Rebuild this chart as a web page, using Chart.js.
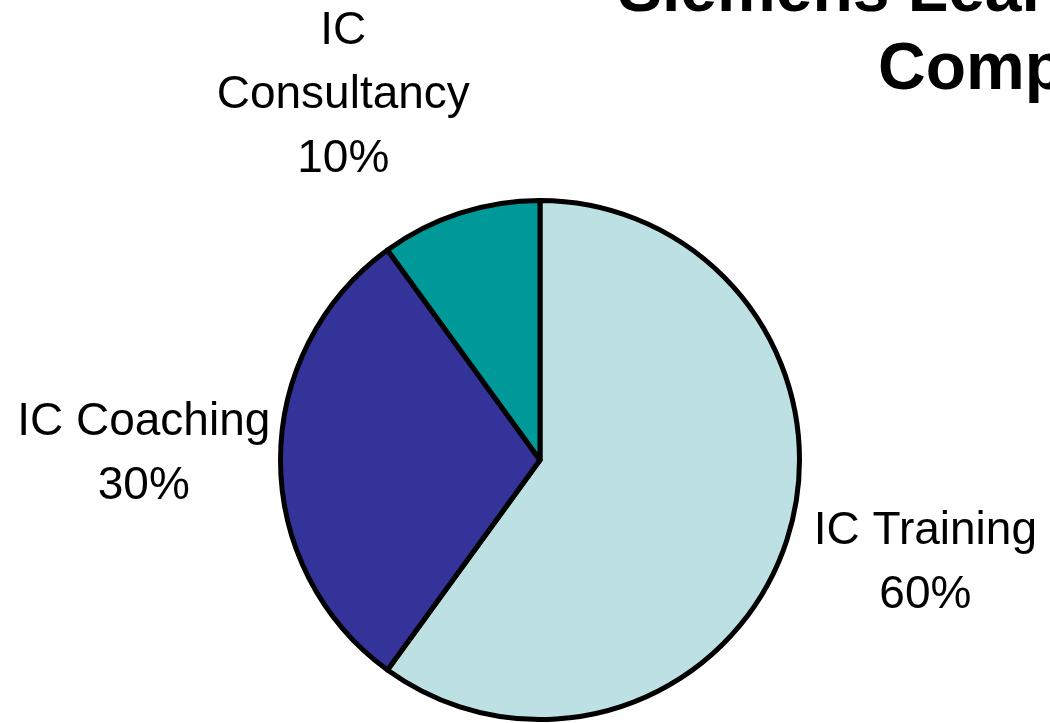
<!DOCTYPE html>
<html>
<head>
<meta charset="utf-8">
<script src="https://cdn.jsdelivr.net/npm/chart.js@4"></script>
<style>
  html, body { margin: 0; padding: 0; background: #fff; }
  #wrap { width: 1050px; height: 723px; position: relative; overflow: hidden; }
</style>
</head>
<body>
<div id="wrap"><canvas id="myChart" width="1050" height="723"></canvas></div>
<script>
// data
var categories = ['IC Training', 'IC Coaching', 'IC Consultancy'];
var shares = [60, 30, 10];
var titleLines = ['Siemens Learning', 'Competence'];

// look
var sliceColors = ['#bde0e3', '#333399', '#009999'];
var wrapLabel = [false, false, true];
// label block centre, relative to pie centre, in radii
var labelOffsets = [[1.485, 0.40], [-1.527, -0.02], [-0.758, -1.404]];

var labelPlugin = {
  id: 'sliceLabels',
  afterDraw: function(chart) {
    var ctx = chart.ctx;
    var arcs = chart.getDatasetMeta(0).data;
    ctx.save();
    ctx.fillStyle = '#000';
    ctx.font = '46px "Liberation Sans", Arial, sans-serif';
    ctx.textAlign = 'center';
    ctx.textBaseline = 'middle';
    arcs.forEach(function(arc, i) {
      var r = arc.outerRadius;
      var cx = arc.x + labelOffsets[i][0] * r;
      var cy = arc.y + labelOffsets[i][1] * r;
      var lines = wrapLabel[i] ? categories[i].split(' ') : [categories[i]];
      lines.push(shares[i] + '%');
      var lh = 64;
      var y0 = cy - (lines.length - 1) * lh / 2;
      lines.forEach(function(t, k) {
        ctx.fillText(t, cx, y0 + k * lh);
      });
    });

    // title, runs off the right edge like the original slide
    ctx.font = 'bold 66px "Liberation Sans", Arial, sans-serif';
    ctx.textAlign = 'left';
    ctx.textBaseline = 'alphabetic';
    ctx.fillText(titleLines[0], 618, 11);
    ctx.fillText(titleLines[1], 878, 89);
    ctx.restore();
  }
};

var ctx = document.getElementById('myChart').getContext('2d');
var myChart = new Chart(ctx, {
  type: 'pie',
  data: {
    labels: categories,
    datasets: [{
      data: shares,
      backgroundColor: sliceColors,
      borderColor: '#000',
      borderWidth: 5,
      borderJoinStyle: 'round',
      hoverOffset: 0
    }]
  },
  options: {
    responsive: false,
    maintainAspectRatio: false,
    animation: false,
    layout: {
      padding: { top: 198, bottom: 1, left: 30, right: 0 }
    },
    plugins: {
      legend: { display: false },
      tooltip: { enabled: false },
      title: { display: false }
    }
  },
  plugins: [labelPlugin]
});
</script>
</body>
</html>
